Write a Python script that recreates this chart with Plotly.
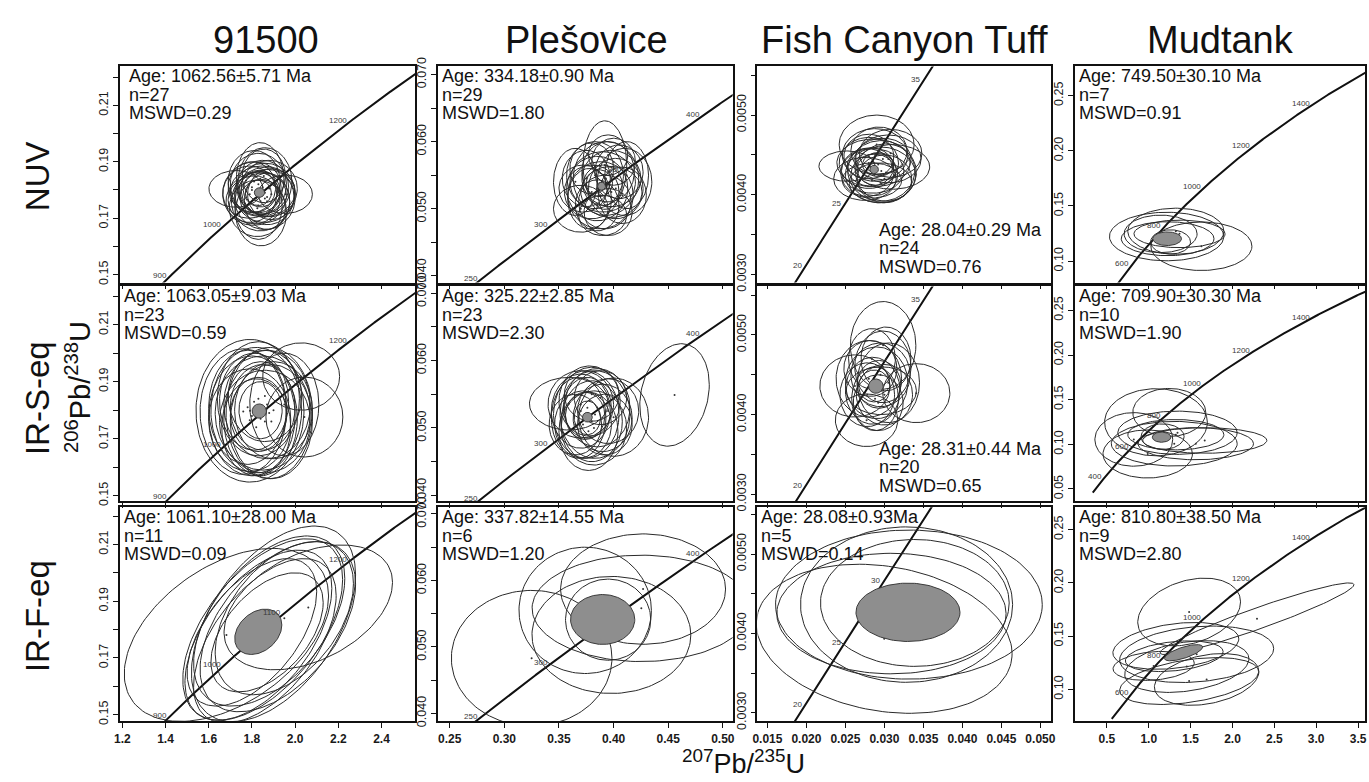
import numpy as np
import plotly.graph_objects as go

FIG_W, FIG_H = 1369, 782

# Decay constants (1/yr) for the Wetherill concordia
LAMBDA_238 = 1.55125e-10
LAMBDA_235 = 9.8485e-10

samples = ["91500", "Plešovice", "Fish Canyon Tuff", "Mudtank"]
methods = ["NUV", "IR-S-eq", "IR-F-eq"]

# Result statistics printed inside each panel: [method][sample]
age_text = [
    ["Age: 1062.56±5.71 Ma", "Age: 334.18±0.90 Ma", "Age: 28.04±0.29 Ma", "Age: 749.50±30.10 Ma"],
    ["Age: 1063.05±9.03 Ma", "Age: 325.22±2.85 Ma", "Age: 28.31±0.44 Ma", "Age: 709.90±30.30 Ma"],
    ["Age: 1061.10±28.00 Ma", "Age: 337.82±14.55 Ma", "Age: 28.08±0.93Ma", "Age: 810.80±38.50 Ma"],
]
n_text = [
    ["n=27", "n=29", "n=24", "n=7"],
    ["n=23", "n=23", "n=20", "n=10"],
    ["n=11", "n=6", "n=5", "n=9"],
]
mswd_text = [
    ["MSWD=0.29", "MSWD=1.80", "MSWD=0.76", "MSWD=0.91"],
    ["MSWD=0.59", "MSWD=2.30", "MSWD=0.65", "MSWD=1.90"],
    ["MSWD=0.09", "MSWD=1.20", "MSWD=0.14", "MSWD=2.80"],
]

# Error ellipses: (207Pb/235U, 206Pb/238U, half-width x, half-width y, rho)
ell_91500_nuv = [
    (1.726, 0.1804, 0.125, 0.0065, 0.0), (1.955, 0.1785, 0.125, 0.0068, 0.0),
    (1.838, 0.1840, 0.110, 0.0128, 0.0), (1.842, 0.1720, 0.118, 0.0118, 0.0),
    (1.800, 0.1800, 0.135, 0.0100, 0.1), (1.860, 0.1790, 0.140, 0.0105, 0.0),
    (1.830, 0.1820, 0.130, 0.0110, 0.0), (1.870, 0.1775, 0.125, 0.0098, 0.0),
    (1.820, 0.1770, 0.140, 0.0095, 0.1), (1.850, 0.1810, 0.120, 0.0095, 0.0),
    (1.790, 0.1785, 0.125, 0.0100, 0.0), (1.880, 0.1805, 0.130, 0.0100, 0.0),
    (1.840, 0.1760, 0.135, 0.0105, 0.0), (1.810, 0.1830, 0.120, 0.0110, 0.0),
    (1.860, 0.1830, 0.125, 0.0120, 0.0), (1.830, 0.1745, 0.110, 0.0120, 0.0),
    (1.850, 0.1795, 0.150, 0.0090, 0.0), (1.800, 0.1810, 0.110, 0.0090, 0.0),
    (1.890, 0.1785, 0.110, 0.0090, 0.0), (1.835, 0.1795, 0.095, 0.0075, 0.0),
    (1.840, 0.1800, 0.080, 0.0060, 0.0), (1.830, 0.1790, 0.060, 0.0045, 0.0),
    (1.870, 0.1760, 0.105, 0.0100, 0.0), (1.810, 0.1765, 0.120, 0.0085, 0.0),
    (1.855, 0.1850, 0.100, 0.0095, 0.0), (1.825, 0.1735, 0.130, 0.0100, 0.0),
    (1.860, 0.1770, 0.140, 0.0110, 0.0),
]
ell_ples_nuv = [
    (0.392, 0.0565, 0.020, 0.0066, 0.0), (0.370, 0.0500, 0.025, 0.0035, 0.0),
    (0.395, 0.0495, 0.022, 0.0035, 0.0), (0.365, 0.0540, 0.020, 0.0050, 0.0),
    (0.410, 0.0540, 0.025, 0.0050, 0.0), (0.390, 0.0540, 0.030, 0.0045, 0.0),
    (0.385, 0.0530, 0.028, 0.0048, 0.0), (0.398, 0.0545, 0.027, 0.0042, 0.0),
    (0.380, 0.0525, 0.025, 0.0040, 0.0), (0.395, 0.0555, 0.024, 0.0045, 0.0),
    (0.388, 0.0520, 0.030, 0.0050, 0.0), (0.402, 0.0530, 0.025, 0.0045, 0.0),
    (0.375, 0.0545, 0.022, 0.0042, 0.0), (0.392, 0.0510, 0.024, 0.0040, 0.0),
    (0.405, 0.0555, 0.022, 0.0040, 0.0), (0.383, 0.0550, 0.026, 0.0050, 0.0),
    (0.398, 0.0525, 0.028, 0.0038, 0.0), (0.390, 0.0535, 0.018, 0.0030, 0.0),
    (0.387, 0.0538, 0.012, 0.0020, 0.0), (0.378, 0.0515, 0.020, 0.0045, 0.0),
    (0.400, 0.0570, 0.020, 0.0035, 0.0), (0.412, 0.0550, 0.020, 0.0050, 0.0),
    (0.372, 0.0530, 0.022, 0.0035, 0.0), (0.393, 0.0545, 0.030, 0.0055, 0.0),
    (0.385, 0.0505, 0.020, 0.0038, 0.0), (0.408, 0.0520, 0.022, 0.0042, 0.0),
    (0.395, 0.0580, 0.018, 0.0030, 0.0), (0.380, 0.0560, 0.020, 0.0038, 0.0),
    (0.390, 0.0490, 0.022, 0.0030, 0.0),
]
ell_fct_nuv = [
    (0.0252, 0.00436, 0.0036, 0.00019, 0.0), (0.0290, 0.00463, 0.0048, 0.00037, 0.0),
    (0.0305, 0.00445, 0.0042, 0.00030, 0.0), (0.0285, 0.00430, 0.0040, 0.00028, 0.0),
    (0.0295, 0.00425, 0.0045, 0.00035, 0.0), (0.0280, 0.00440, 0.0038, 0.00032, 0.0),
    (0.0300, 0.00420, 0.0035, 0.00030, 0.0), (0.0275, 0.00420, 0.0040, 0.00027, 0.0),
    (0.0310, 0.00435, 0.0048, 0.00028, 0.0), (0.0288, 0.00450, 0.0042, 0.00033, 0.0),
    (0.0295, 0.00415, 0.0040, 0.00025, 0.0), (0.0282, 0.00435, 0.0030, 0.00024, 0.0),
    (0.0290, 0.00432, 0.0025, 0.00020, 0.0), (0.0298, 0.00445, 0.0036, 0.00026, 0.0),
    (0.0278, 0.00428, 0.0034, 0.00030, 0.0), (0.0302, 0.00428, 0.0039, 0.00036, 0.0),
    (0.0286, 0.00440, 0.0047, 0.00030, 0.0), (0.0293, 0.00455, 0.0036, 0.00030, 0.0),
    (0.0284, 0.00418, 0.0038, 0.00022, 0.0), (0.0292, 0.00438, 0.0020, 0.00015, 0.0),
    (0.0308, 0.00452, 0.0040, 0.00030, 0.0), (0.0280, 0.00448, 0.0032, 0.00028, 0.0),
    (0.0296, 0.00430, 0.0043, 0.00038, 0.0), (0.0287, 0.00425, 0.0030, 0.00026, 0.0),
]
ell_mud_nuv = [
    (1.213, 0.1223, 0.683, 0.0220, 0.0), (1.323, 0.1271, 0.574, 0.0209, 0.0),
    (1.628, 0.1135, 0.604, 0.0220, 0.0), (1.225, 0.1203, 0.554, 0.0154, 0.0),
    (1.367, 0.1247, 0.544, 0.0125, 0.0), (1.260, 0.1174, 0.238, 0.0110, 0.0),
    (1.141, 0.1247, 0.436, 0.0170, 0.0),
]
ell_91500_irs = [
    (1.791, 0.1798, 0.250, 0.0250, 0.0), (2.028, 0.1918, 0.178, 0.0118, 0.0),
    (2.043, 0.1776, 0.178, 0.0140, 0.0), (1.820, 0.1800, 0.210, 0.0220, 0.0),
    (1.850, 0.1790, 0.220, 0.0200, 0.0), (1.800, 0.1780, 0.200, 0.0210, 0.0),
    (1.870, 0.1820, 0.200, 0.0190, 0.0), (1.830, 0.1840, 0.190, 0.0200, 0.0),
    (1.860, 0.1760, 0.210, 0.0180, 0.0), (1.780, 0.1810, 0.180, 0.0200, 0.0),
    (1.840, 0.1770, 0.170, 0.0200, 0.0), (1.900, 0.1800, 0.180, 0.0170, 0.0),
    (1.810, 0.1830, 0.160, 0.0170, 0.0), (1.850, 0.1810, 0.150, 0.0150, 0.0),
    (1.830, 0.1785, 0.130, 0.0130, 0.0), (1.880, 0.1790, 0.200, 0.0230, 0.0),
    (1.790, 0.1765, 0.190, 0.0180, 0.0), (1.860, 0.1850, 0.170, 0.0160, 0.0),
    (1.820, 0.1740, 0.160, 0.0170, 0.0), (1.950, 0.1820, 0.160, 0.0180, 0.0),
    (1.840, 0.1800, 0.100, 0.0100, 0.0), (1.760, 0.1795, 0.200, 0.0220, 0.0),
    (1.890, 0.1760, 0.190, 0.0200, 0.0),
]
ell_ples_irs = [
    (0.4558, 0.0549, 0.0318, 0.0076, 0.2), (0.359, 0.0536, 0.036, 0.0039, 0.0),
    (0.400, 0.0516, 0.032, 0.0058, 0.0), (0.375, 0.0520, 0.030, 0.0065, 0.0),
    (0.380, 0.0510, 0.028, 0.0060, 0.0), (0.370, 0.0525, 0.027, 0.0055, 0.0),
    (0.385, 0.0530, 0.030, 0.0058, 0.0), (0.372, 0.0505, 0.026, 0.0050, 0.0),
    (0.378, 0.0540, 0.028, 0.0052, 0.0), (0.390, 0.0515, 0.027, 0.0050, 0.0),
    (0.368, 0.0515, 0.025, 0.0060, 0.0), (0.382, 0.0500, 0.030, 0.0055, 0.0),
    (0.376, 0.0530, 0.022, 0.0045, 0.0), (0.388, 0.0545, 0.024, 0.0040, 0.0),
    (0.365, 0.0505, 0.024, 0.0045, 0.0), (0.377, 0.0495, 0.027, 0.0058, 0.0),
    (0.395, 0.0525, 0.028, 0.0048, 0.0), (0.374, 0.0518, 0.018, 0.0035, 0.0),
    (0.376, 0.0515, 0.012, 0.0025, 0.0), (0.383, 0.0520, 0.032, 0.0065, 0.0),
    (0.370, 0.0535, 0.030, 0.0050, 0.0), (0.392, 0.0505, 0.025, 0.0045, 0.0),
    (0.380, 0.0550, 0.025, 0.0040, 0.0),
]
ell_fct_irs = [
    (0.02983, 0.00487, 0.0042, 0.00055, 0.0), (0.03409, 0.00427, 0.0043, 0.00037, 0.0),
    (0.02622, 0.00436, 0.0045, 0.00039, 0.0), (0.02771, 0.00393, 0.0040, 0.00033, 0.0),
    (0.02900, 0.00440, 0.0040, 0.00045, 0.0), (0.02850, 0.00430, 0.0035, 0.00042, 0.0),
    (0.02950, 0.00450, 0.0038, 0.00040, 0.0), (0.02800, 0.00445, 0.0042, 0.00048, 0.0),
    (0.03000, 0.00425, 0.0036, 0.00038, 0.0), (0.02880, 0.00420, 0.0030, 0.00040, 0.0),
    (0.02930, 0.00438, 0.0028, 0.00030, 0.0), (0.02820, 0.00458, 0.0034, 0.00035, 0.0),
    (0.02980, 0.00460, 0.0036, 0.00045, 0.0), (0.02870, 0.00436, 0.0020, 0.00020, 0.0),
    (0.03050, 0.00440, 0.0040, 0.00050, 0.0), (0.02780, 0.00425, 0.0035, 0.00040, 0.0),
    (0.02920, 0.00415, 0.0032, 0.00035, 0.0), (0.03020, 0.00470, 0.0032, 0.00040, 0.0),
    (0.02840, 0.00470, 0.0030, 0.00038, 0.0), (0.02960, 0.00430, 0.0045, 0.00030, 0.0),
]
ell_mud_irs = [
    (1.245, 0.1357, 0.436, 0.0269, 0.0), (1.086, 0.1247, 0.614, 0.0376, 0.0),
    (1.668, 0.1043, 0.742, 0.0143, 0.0), (1.561, 0.1007, 0.690, 0.0180, 0.0),
    (0.987, 0.0892, 0.534, 0.0269, 0.0), (0.821, 0.1055, 0.465, 0.0300, 0.0),
    (1.343, 0.1130, 0.713, 0.0242, 0.0), (1.323, 0.1108, 0.574, 0.0170, 0.0),
    (1.165, 0.1086, 0.257, 0.0143, 0.0), (1.304, 0.1007, 0.752, 0.0250, 0.0),
]
ell_91500_irf = [
    (1.682, 0.1781, 0.473, 0.0305, 0.45), (2.061, 0.1878, 0.390, 0.0220, 0.40),
    (1.900, 0.1820, 0.380, 0.0345, 0.50), (1.850, 0.1800, 0.370, 0.0320, 0.55),
    (1.880, 0.1830, 0.350, 0.0300, 0.50), (1.830, 0.1780, 0.340, 0.0300, 0.55),
    (1.920, 0.1810, 0.360, 0.0300, 0.50), (1.860, 0.1760, 0.330, 0.0290, 0.55),
    (1.800, 0.1790, 0.300, 0.0260, 0.55), (1.950, 0.1840, 0.320, 0.0270, 0.45),
    (1.870, 0.1790, 0.260, 0.0210, 0.50),
]
ell_ples_irf = [
    (0.325, 0.0483, 0.0735, 0.0102, 0.0), (0.427, 0.0587, 0.0755, 0.0083, 0.0),
    (0.4254, 0.0558, 0.1000, 0.0080, 0.0), (0.374, 0.0555, 0.0606, 0.0095, 0.0),
    (0.398, 0.0518, 0.0727, 0.0088, 0.0), (0.395, 0.0541, 0.0390, 0.0061, 0.0),
]
ell_fct_irf = [
    (0.02997, 0.003932, 0.0164, 0.00094, -0.2), (0.03314, 0.004363, 0.0171, 0.00094, 0.0),
    (0.03090, 0.004250, 0.0147, 0.00076, 0.0), (0.03284, 0.004363, 0.0136, 0.00098, 0.0),
    (0.03390, 0.004384, 0.0121, 0.00080, 0.0),
]
ell_mud_irf = [
    (2.293, 0.1664, 1.158, 0.0336, 0.95), (1.482, 0.1727, 0.614, 0.0318, 0.3),
    (1.323, 0.1409, 0.752, 0.0220, 0.3), (1.572, 0.1330, 0.920, 0.0265, 0.2),
    (1.691, 0.1094, 0.624, 0.0243, 0.3), (1.454, 0.1215, 0.742, 0.0243, 0.3),
    (1.058, 0.1221, 0.485, 0.0136, 0.2), (1.304, 0.1312, 0.584, 0.0144, 0.3),
    (1.482, 0.1079, 0.830, 0.0220, 0.4),
]
ellipses = [
    [ell_91500_nuv, ell_ples_nuv, ell_fct_nuv, ell_mud_nuv],
    [ell_91500_irs, ell_ples_irs, ell_fct_irs, ell_mud_irs],
    [ell_91500_irf, ell_ples_irf, ell_fct_irf, ell_mud_irf],
]

# Weighted-mean ellipses (shaded)
mean_ellipses = [
    [(1.835, 0.1791, 0.024, 0.0017, 0.0), (0.389, 0.05335, 0.0036, 0.0006, 0.0),
     (0.02868, 0.004318, 0.00055, 0.000053, 0.0), (1.219, 0.1203, 0.172, 0.0062, 0.0)],
    [(1.834, 0.1797, 0.033, 0.0025, 0.0), (0.376, 0.0516, 0.0045, 0.00072, 0.0),
     (0.0289, 0.004358, 0.00094, 0.00009, 0.0), (1.153, 0.1080, 0.111, 0.0057, 0.0)],
    [(1.8295, 0.1792, 0.109, 0.0080, 0.3), (0.390, 0.05413, 0.0294, 0.00375, 0.0),
     (0.03302, 0.004266, 0.00667, 0.000368, 0.0), (1.415, 0.1345, 0.228, 0.0076, 0.7)],
]

# Ages (Ma) labelled along the concordia
conc_label_ages = [
    [[900, 1000, 1200], [250, 300, 350, 400], [20, 25, 35], [600, 800, 1000, 1200, 1400]],
    [[900, 1000, 1200], [250, 300, 400], [20, 35], [400, 600, 800, 1000, 1200, 1400]],
    [[900, 1000, 1100, 1200], [250, 300, 400], [20, 25, 30], [600, 800, 1000, 1200, 1400]],
]
# Age span (Ma) over which the concordia is traced
conc_age_span = [
    [(850, 1350), (230, 450), (15, 40), (450, 1650)],
    [(850, 1350), (230, 450), (15, 40), (290, 1650)],
    [(850, 1350), (230, 450), (15, 40), (450, 1650)],
]

# Axis scales
x_ranges = [(1.19, 2.555), (0.2391, 0.509), (0.01372, 0.0514), (0.12, 3.583)]
y_ranges = [
    [(0.1472, 0.2238), (0.039, 0.0712), (0.0029, 0.00561), (0.0806, 0.2765)],
    [(0.148, 0.2234), (0.0391, 0.071), (0.00291, 0.00561), (0.036, 0.2769)],
    [(0.1476, 0.2231), (0.0388, 0.071), (0.00289, 0.00559), (0.070, 0.271)],
]
x_tick_vals = [
    [1.2, 1.4, 1.6, 1.8, 2.0, 2.2, 2.4],
    [0.25, 0.30, 0.35, 0.40, 0.45, 0.50],
    [0.015, 0.020, 0.025, 0.030, 0.035, 0.040, 0.045, 0.050],
    [0.5, 1.0, 1.5, 2.0, 2.5, 3.0, 3.5],
]
x_tick_text = [
    ["1.2", "1.4", "1.6", "1.8", "2.0", "2.2", "2.4"],
    ["0.25", "0.30", "0.35", "0.40", "0.45", "0.50"],
    ["0.015", "0.020", "0.025", "0.030", "0.035", "0.040", "0.045", "0.050"],
    ["0.5", "1.0", "1.5", "2.0", "2.5", "3.0", "3.5"],
]
y_tick_vals_col = [
    [0.15, 0.17, 0.19, 0.21],
    [0.040, 0.050, 0.060, 0.070],
    [0.0030, 0.0040, 0.0050],
]
y_tick_text_col = [
    ["0.15", "0.17", "0.19", "0.21"],
    ["0.040", "0.050", "0.060", "0.070"],
    ["0.0030", "0.0040", "0.0050"],
]
y_minor_vals_col = [
    [0.16, 0.18, 0.20, 0.22],
    [0.045, 0.055, 0.065],
    [0.0035, 0.0045, 0.0055],
]
y_tick_vals_mud = [
    [0.10, 0.15, 0.20, 0.25],
    [0.05, 0.10, 0.15, 0.20, 0.25],
    [0.10, 0.15, 0.20, 0.25],
]
y_tick_text_mud = [
    ["0.10", "0.15", "0.20", "0.25"],
    ["0.05", "0.10", "0.15", "0.20", "0.25"],
    ["0.10", "0.15", "0.20", "0.25"],
]

# ---- layout geometry (pixels) ----
col_px = [(115, 412), (435, 732), (757, 1053), (1077, 1369)]
row_px = [(57, 279), (283, 504), (510, 730)]
FONT = "Liberation Sans, Arial, Helvetica, sans-serif"
INK = "#111111"


def px_x(p):
    return p / FIG_W


def px_y(p):
    return 1 - p / FIG_H


theta = np.linspace(0, 2 * np.pi, 140)


def ellipse_xy(cx, cy, sx, sy, rho):
    c, s = np.cos(theta), np.sin(theta)
    return cx + sx * c, cy + sy * (rho * c + np.sqrt(1 - rho * rho) * s)


def concordia(t_ma):
    t = np.asarray(t_ma, dtype=float) * 1e6
    return np.expm1(LAMBDA_235 * t), np.expm1(LAMBDA_238 * t)


fig = go.Figure()
annotations = []
layout_axes = {}

for r in range(3):
    for c in range(4):
        k = r * 4 + c + 1
        xa = "x" if k == 1 else f"x{k}"
        ya = "y" if k == 1 else f"y{k}"

        # concordia curve
        t0, t1 = conc_age_span[r][c]
        cx_line, cy_line = concordia(np.linspace(t0, t1, 800))
        fig.add_trace(go.Scatter(x=cx_line, y=cy_line, mode="lines", xaxis=xa, yaxis=ya,
                                 line=dict(color=INK, width=2), hoverinfo="skip",
                                 showlegend=False))

        # individual analyses
        ex, ey = [], []
        for e in ellipses[r][c]:
            x, y = ellipse_xy(*e)
            ex += list(x) + [None]
            ey += list(y) + [None]
        fig.add_trace(go.Scatter(x=ex, y=ey, mode="lines", xaxis=xa, yaxis=ya,
                                 line=dict(color="#2a2a2a", width=1), hoverinfo="skip",
                                 showlegend=False))
        fig.add_trace(go.Scatter(x=[e[0] for e in ellipses[r][c]],
                                 y=[e[1] for e in ellipses[r][c]], mode="markers",
                                 xaxis=xa, yaxis=ya, marker=dict(size=2, color="#333333"),
                                 hoverinfo="skip", showlegend=False))

        # weighted mean
        mx, my = ellipse_xy(*mean_ellipses[r][c])
        fig.add_trace(go.Scatter(x=mx, y=my, mode="lines", fill="toself", xaxis=xa, yaxis=ya,
                                 fillcolor="#8e8e8e", line=dict(color="#3a3a3a", width=1),
                                 hoverinfo="skip", showlegend=False))

        # concordia age labels
        lx, ly = concordia(conc_label_ages[r][c])
        for age, x, y in zip(conc_label_ages[r][c], lx, ly):
            annotations.append(dict(x=x, y=y, xref=xa, yref=ya, text=str(age),
                                    showarrow=False, xanchor="right", yanchor="middle",
                                    xshift=-2, font=dict(family=FONT, size=8, color="#3a3a3a")))

        # axes
        xdom = (px_x(col_px[c][0]), px_x(col_px[c][1]))
        ydom = (px_y(row_px[r][1]), px_y(row_px[r][0]))
        if c < 3:
            yv, yt, ym = y_tick_vals_col[c], y_tick_text_col[c], y_minor_vals_col[c]
        else:
            yv, yt, ym = y_tick_vals_mud[r], y_tick_text_mud[r], []
        common = dict(showline=True, linecolor=INK, linewidth=1.5, mirror=True,
                      showgrid=False, zeroline=False, ticks="outside", ticklen=5,
                      tickwidth=1, tickcolor=INK)
        xaxis = dict(domain=xdom, range=list(x_ranges[c]), anchor=ya, tickmode="array",
                     tickvals=x_tick_vals[c], **common)
        if r == 2:
            xaxis.update(ticktext=x_tick_text[c], showticklabels=True,
                         tickfont=dict(family=FONT, size=12, color="#1a1a1a", weight="bold"))
        else:
            xaxis.update(showticklabels=False)
        layout_axes["xaxis" if k == 1 else f"xaxis{k}"] = xaxis
        yaxis = dict(
            domain=ydom, range=list(y_ranges[r][c]), anchor=xa, tickmode="array",
            tickvals=yv, ticktext=yt, tickangle=-90,
            tickfont=dict(family=FONT, size=12.5, color="#1a1a1a"), **common)
        if ym:
            yaxis["minor"] = dict(tickmode="array", tickvals=ym, ticks="outside", ticklen=5,
                                  tickwidth=1, tickcolor=INK, showgrid=False)
        layout_axes["yaxis" if k == 1 else f"yaxis{k}"] = yaxis

        # statistics block
        if c == 2 and r < 2:
            tx = 878
            line_y = [row_px[r][1] - 54, row_px[r][1] - 35, row_px[r][1] - 16]
        else:
            tx = col_px[c][0] + (8 if (r == 0 and c == 0) else 3)
            line_y = [row_px[r][0] + 10, row_px[r][0] + 29, row_px[r][0] + 48]
        for txt, yy in zip([age_text[r][c], n_text[r][c], mswd_text[r][c]], line_y):
            annotations.append(dict(x=px_x(tx), y=px_y(yy), xref="paper", yref="paper",
                                    text=txt, showarrow=False, xanchor="left", yanchor="middle",
                                    borderpad=0, font=dict(family=FONT, size=18, color=INK)))

# column titles
col_title_x = [262, 585, 905, 1223]
for name, xx in zip(samples, col_title_x):
    annotations.append(dict(x=px_x(xx), y=px_y(30), xref="paper", yref="paper", text=name,
                            showarrow=False, xanchor="center", yanchor="middle",
                            font=dict(family=FONT, size=38, color=INK)))
# row titles
row_title_y = [170, 398, 622]
for name, yy in zip(methods, row_title_y):
    annotations.append(dict(x=px_x(32), y=px_y(yy), xref="paper", yref="paper", text=name,
                            showarrow=False, textangle=-90, xanchor="center", yanchor="middle",
                            font=dict(family=FONT, size=33, color=INK)))
# axis titles
annotations.append(dict(x=px_x(72), y=px_y(386), xref="paper", yref="paper",
                        text="<sup>206</sup>Pb/<sup>238</sup>U", showarrow=False, textangle=-90,
                        xanchor="center", yanchor="middle",
                        font=dict(family=FONT, size=29, color=INK)))
annotations.append(dict(x=px_x(743), y=px_y(790), xref="paper", yref="paper",
                        text="<sup>207</sup>Pb/<sup>235</sup>U", showarrow=False,
                        xanchor="center", yanchor="bottom", borderpad=0,
                        font=dict(family=FONT, size=27, color=INK)))

fig.update_layout(width=FIG_W, height=FIG_H, margin=dict(l=0, r=0, t=0, b=0),
                  paper_bgcolor="white", plot_bgcolor="white", showlegend=False,
                  annotations=annotations, **layout_axes)
fig.write_html("out.html")
